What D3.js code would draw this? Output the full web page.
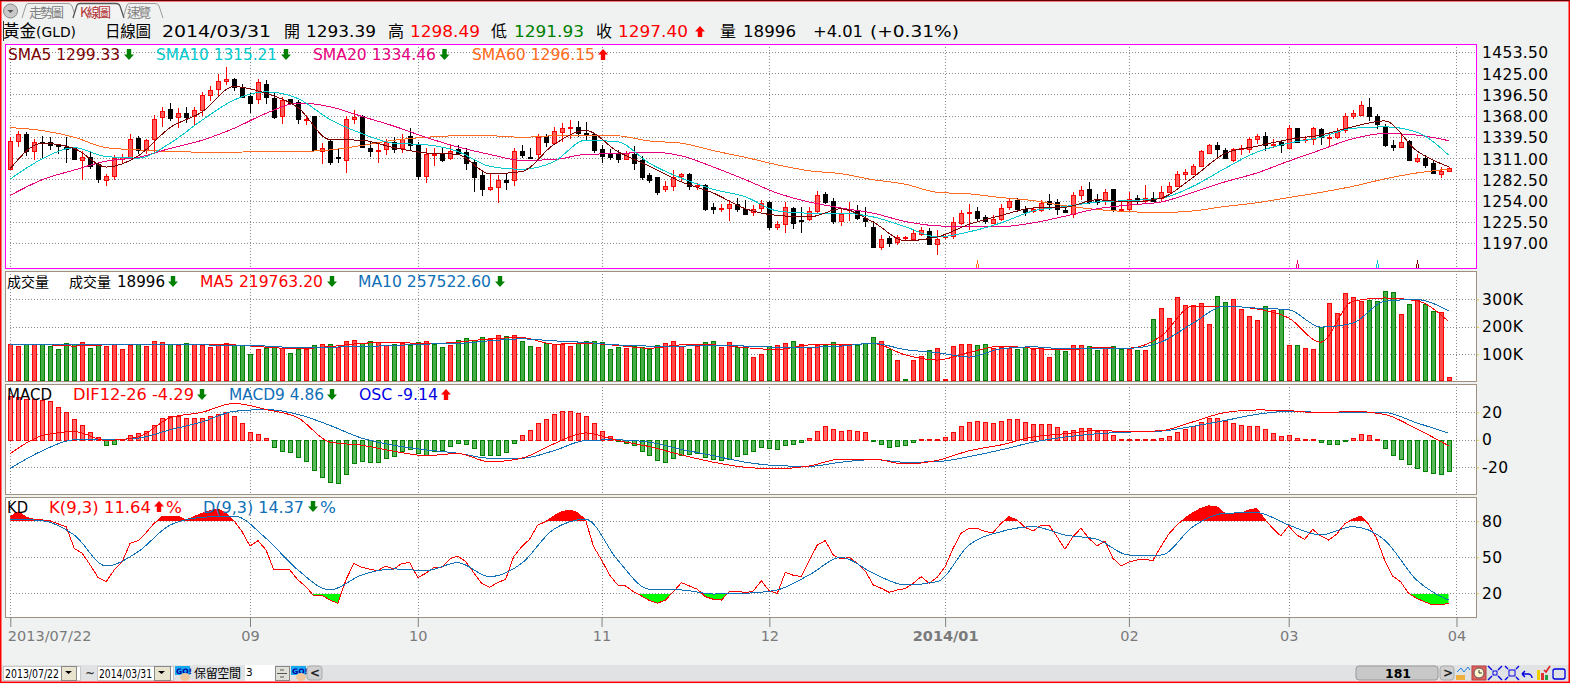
<!DOCTYPE html>
<html><head><meta charset="utf-8">
<style>
html,body{margin:0;padding:0;background:#f0f2f2;overflow:hidden}
svg{display:block}
text{font-family:"DejaVu Sans","Noto Sans CJK TC",sans-serif}
.cjk{font-family:"Noto Sans CJK TC",sans-serif}
</style>
<script src="https://cdn.jsdelivr.net/npm/d3@7"></script>
</head><body><svg id="c" width="1570" height="684"></svg>
<script>
const opens=[1296,1334,1344,1321,1333,1333,1328,1326,1324,1309,
1313,1303,1282,1287,1310,1312,1338,1322,1336,1366,
1377,1366,1371,1367,1375,1396,1404,1415,1417,1407,
1395,1391,1411,1392,1367,1390,1387,1363,1367,1321,
1334,1312,1309,1363,1367,1325,1321,1323,1332,1325,
1341,1329,1287,1315,1316,1311,1323,1319,1306,1288,
1270,1272,1282,1282,1321,1312,1316,1341,1331,1346,
1351,1353,1345,1344,1323,1316,1316,1310,1317,1308,
1288,1285,1269,1273,1287,1289,1274,1275,1245,1243,
1244,1249,1242,1238,1244,1252,1218,1223,1244,1228,
1229,1240,1263,1253,1226,1241,1240,1231,1219,1191,
1204,1199,1204,1203,1209,1213,1196,1205,1207,1224,
1237,1240,1232,1224,1229,1246,1255,1243,1240,1241,
1254,1252,1241,1236,1262,1269,1256,1254,1269,1242,
1243,1258,1253,1258,1257,1266,1274,1290,1290,1300,
1318,1328,1322,1309,1323,1323,1337,1341,1328,1332,
1325,1351,1335,1337,1350,1338,1339,1349,1367,1369,
1380,1367,1354,1329,1326,1334,1307,1311,1305,1290,1293.39];
const highs=[1340,1348,1346,1337,1341,1339,1330,1339,1325,1320,
1321,1304,1290,1315,1316,1344,1341,1336,1369,1379,
1385,1378,1379,1380,1400,1408,1424,1434,1418,1411,
1398,1417,1416,1398,1393,1391,1389,1369,1368,1331,
1335,1324,1367,1375,1369,1333,1330,1337,1340,1344,
1352,1332,1324,1324,1325,1329,1329,1324,1308,1295,
1291,1288,1290,1324,1329,1324,1344,1343,1353,1358,
1362,1361,1359,1345,1329,1323,1322,1321,1327,1314,
1291,1285,1280,1295,1291,1291,1278,1276,1251,1249,
1255,1258,1255,1248,1255,1253,1226,1252,1246,1245,
1245,1267,1265,1257,1242,1252,1248,1245,1226,1208,
1207,1208,1207,1215,1219,1217,1215,1209,1232,1241,
1249,1245,1234,1235,1250,1257,1257,1247,1246,1255,
1263,1256,1247,1266,1274,1279,1263,1270,1270,1255,
1266,1261,1275,1266,1273,1279,1294,1296,1303,1322,
1330,1332,1324,1325,1328,1339,1343,1346,1336,1334,
1355,1352,1341,1353,1352,1345,1352,1371,1375,1388,
1392,1370,1357,1335,1343,1335,1317,1315,1307,1299,1298.49];
const lows=[1295,1326,1314,1308,1311,1322,1317,1305,1308,1282,
1297,1278,1273,1282,1305,1311,1317,1316,1318,1353,
1361,1351,1358,1355,1367,1388,1394,1409,1401,1392,
1371,1384,1384,1363,1357,1382,1357,1355,1321,1303,
1302,1305,1291,1357,1324,1313,1305,1315,1318,1318,
1322,1282,1277,1300,1306,1308,1316,1295,1265,1260,
1267,1251,1268,1274,1311,1311,1309,1326,1329,1333,
1337,1340,1335,1318,1305,1309,1305,1309,1295,1281,
1278,1261,1265,1267,1279,1268,1268,1240,1236,1239,
1226,1239,1235,1233,1239,1215,1215,1211,1216,1211,
1226,1237,1250,1223,1220,1226,1228,1219,1190,1187,
1192,1194,1200,1200,1207,1194,1181,1203,1203,1221,
1215,1226,1223,1223,1226,1241,1239,1233,1237,1238,
1241,1235,1237,1231,1255,1250,1248,1248,1238,1238,
1238,1249,1250,1252,1252,1264,1273,1282,1288,1299,
1316,1313,1310,1306,1315,1318,1330,1321,1324,1318,
1324,1331,1331,1329,1328,1327,1337,1345,1364,1367,
1361,1350,1326,1320,1324,1307,1305,1298,1289,1284,1291.93];
const closes=[1334,1343,1321,1333,1332,1328,1327,1323,1310,1312,
1301,1283,1287,1311,1313,1336,1322,1335,1364,1374,
1365,1371,1366,1375,1396,1403,1415,1417,1406,1393,
1385,1413,1393,1366,1389,1385,1363,1364,1322,1324,
1306,1311,1364,1366,1326,1320,1322,1333,1323,1336,
1328,1287,1316,1316,1309,1321,1318,1304,1285,1270,
1272,1281,1279,1320,1315,1311,1340,1332,1347,1351,
1353,1345,1343,1322,1314,1313,1310,1318,1305,1286,
1282,1266,1274,1286,1289,1273,1275,1243,1242,1244,
1250,1242,1236,1243,1251,1219,1222,1246,1224,1227,
1240,1262,1252,1226,1236,1242,1231,1227,1191,1202,
1197,1205,1205,1210,1214,1196,1202,1206,1225,1237,
1239,1231,1226,1229,1244,1253,1242,1239,1243,1251,
1250,1242,1238,1262,1268,1252,1252,1266,1243,1243,
1256,1254,1258,1254,1266,1274,1290,1292,1301,1320,
1328,1323,1311,1323,1324,1336,1341,1328,1330,1328,
1351,1332,1337,1351,1339,1340,1346,1367,1371,1382,
1367,1357,1328,1326,1333,1308,1311,1302,1291,1294,1297.40];

// moving averages, read every fourth session
const sma5=[1297,1331,1324,1299,1314,1352,1373,1407,1398,1379,1336,1335,1325,1318,1316,1290,1293,1329,1348,1320,1300,1279,1264,1243,1234,1232,1243,1225,1200,1205,1222,1234,1244,1245,1255,1252,1257,1285,1317,1327,1336,1342,1353,1361,1321,1299.33];
const sma10=[1283,1310,1325,1313,1311,1331,1362,1389,1400,1391,1363,1344,1331,1329,1320,1300,1296,1306,1335,1333,1304,1284,1269,1259,1240,1237,1237,1232,1219,1205,1212,1224,1240,1246,1252,1254,1257,1273,1297,1319,1331,1339,1351,1353,1346,1315.21];
const sma20=[1261,1282,1295,1307,1312,1324,1335,1351,1371,1385,1380,1367,1354,1339,1326,1316,1308,1309,1316,1317,1319,1314,1299,1282,1264,1252,1244,1237,1226,1220,1219,1219,1224,1233,1243,1248,1252,1265,1279,1291,1307,1322,1337,1344,1342,1334.46];
const sma60=[1352,1348,1339,1325,1322,1320,1319,1319,1320,1320,1322,1328,1335,1339,1341,1341,1339,1341,1342,1341,1334,1331,1321,1312,1302,1294,1290,1282,1276,1265,1263,1258,1254,1247,1242,1239,1238,1240,1246,1251,1258,1265,1273,1283,1291,1296.15];
const crossIdx=[121,161,171,176];

const volumes=[137,131,137,137,137,129,120,140,137,144,
122,137,129,137,120,133,137,129,148,144,
137,133,140,137,133,126,137,140,133,133,
100,120,124,129,122,104,118,118,133,137,
137,126,148,151,140,148,144,133,137,140,
133,144,148,137,126,133,151,159,151,162,
155,170,166,170,148,129,126,142,137,137,
131,140,148,148,144,118,126,122,129,126,
120,133,140,148,129,118,129,144,148,126,
144,126,126,89,100,129,133,140,148,137,
122,133,133,144,133,133,133,140,162,148,
118,78,9,78,93,115,122,9,129,137,
137,133,137,122,126,122,118,126,118,122,
89,118,111,133,133,129,115,122,129,118,
118,115,115,228,268,232,309,279,279,287,
210,312,290,301,265,239,224,276,261,265,
133,133,122,118,199,287,250,323,309,294,
298,294,331,327,246,283,298,283,257,254,19];
const volUp="RRGRGGGGGR"+"GGRRRRGRRR"+"GRGRRRRRGG"+"GRGGRGGRGR"+"GRRRGGRRGR"+"GGRGGRGGGG"+"RRGRGGRGRR"+"RGGGGGGRGG"+"GGRRRGRGGR"+"RGGRRGRRGR"+"RRGGRRGGGR"+"GRGRRGRRRR"+"RGGRRRGGRR"+"RGGRRGGRGG"+"RGRGRRRRRR"+"RGGRRRRGRG"+"RGRRGRRRRR"+"GGGGRGRGGRR";
const volMA5=[134,135,130,134,134,134,135,134,126,120,128,140,144,138,144,156,161,137,140,132,122,134,134,124,117,134,134,139,98,79,107,130,122,116,124,122,165,275,275,265,232,144,293,305,295,219.76];
const volMA10=[134,134,134,134,134,134,134,133,130,124,126,128,132,137,139,149,156,149,143,134,130,130,132,130,126,126,130,140,117,106,90,120,127,120,122,122,144,213,275,268,262,199,213,293,299,257.52];

const osc=[32,31,30,29.5,29,28,24,20,15,10.5,
6,1.7,-3.7,-3,0.5,3.7,5,6.6,11,16,
17.5,17.5,16,15.6,16,17.5,19,20,17,12.4,
5.9,4.4,1,-5.4,-8,-9,-12.4,-15.4,-22,-27,
-31,-31.5,-25,-17,-15.6,-16,-16,-13,-11.7,-8.5,
-7,-9.5,-11,-8.3,-7.6,-4.4,-2.2,-3,-6,-11,
-11,-11,-9,-2.2,3.7,7.3,12.4,15.4,18.5,20.7,
21.2,19.8,17.6,12.4,6.6,2.9,-0.7,-2.4,-3.7,-8,
-11.2,-15,-16.3,-13.4,-11.2,-10.2,-9.5,-12.4,-14,-15,
-14,-11.7,-10.2,-8,-5,-6,-7,-3.7,-3,-1.5,
1.5,6.6,10.2,8,6.6,7.3,6.6,5.9,-0.7,-3,
-5,-4.4,-3.7,-1.5,0.7,0.7,0.7,2.2,5.9,10.2,
13.2,13.9,13.2,12.4,13.9,15.4,15.4,13.2,11.7,11.7,
11.7,9.5,6.6,7.3,8.8,8.8,6.6,7.3,3.7,0.7,
0.7,0.7,0.7,0.7,1.5,2.9,5.9,8,10.2,13.2,
16,16,13.9,12.4,11,10.2,10.2,8,5,2.9,
3.7,1.5,0.7,0.7,-1.5,-3,-3,-0.7,1.5,4.4,
3.7,0.7,-6,-11,-14,-17.6,-20.5,-22.7,-24,-25,-23];
const dif=[-10,3,6,-0.5,2,16,20,26.5,22,16,-1.7,-4,-8.3,-11.5,-10,-16,-13.4,-3,5,-0.5,-5,-11,-16.3,-20,-21,-19,-14,-14,-17.6,-15,-8,-3.7,2,4.4,6.8,5.9,6.6,13,19.8,21.7,21.2,19.5,20.7,18.5,8,-4.29];
const macd9=[-20.7,-8,0,0,1.2,7.3,13,20.7,22,18.5,10.5,1.2,-4,-7.3,-9.8,-13.4,-13.4,-8,-0.5,0,-1.7,-7,-11.5,-16.3,-18.8,-19.3,-16.3,-14.4,-16.3,-15.9,-12.2,-7.3,-1.7,2,4.4,5.6,6.3,9.8,14,18.5,20.7,20,19.8,19.8,12.4,4.86];

const kLine=[83.9,88,83.3,81.7,81.1,80.3,77.8,75.5,57.5,53.3,
43.6,33,29.7,39.4,46.4,61.7,63.9,70.5,78.3,83.9,
83.9,84.4,81.1,83.9,86.7,88.9,90,86.7,80.5,71.4,
59.4,63.9,56.1,39.4,40,39.4,31.1,25.5,17.8,18.3,
14.4,11.7,31.1,45,41.7,40,38.9,42.8,40,45,
45.5,33,36.7,41.4,41.7,48.6,51.1,46.4,37.2,28.3,
25,28.9,31.7,50.5,58.9,65,76.9,79.7,84.4,88,
89.4,87.2,81.1,58.9,47.8,35.3,27,26.1,21.4,17.8,
13.9,11.7,14.4,21.4,28.9,26.1,23.3,17.2,15,14.4,
21.4,21.9,20.5,21.9,30.5,21.9,20,37.5,35,33.9,
47.2,60.3,63.9,51.9,48.6,50,45,38.6,27,24.2,
20.8,22.8,23.9,28.3,33.9,28.3,33.3,42.2,57.5,70,
74.2,74.2,71.4,70.5,78.3,83.9,81.1,75,71.9,76.9,
76.9,67.2,56.7,67.2,74.2,65.8,59.4,63.6,49.2,42.8,
46.1,47.8,48.3,47.2,58.9,69.4,76.9,82.5,87.2,90.8,
92.8,92.2,86.7,86.1,86.7,89.4,90.8,81.7,74.2,67.8,
76.1,68.6,65,73.3,67.8,64.4,69.2,77.8,81.7,84.4,
77.5,65.8,47.8,34.4,29.7,20,15.8,13,10.3,10.3,11.64];
const dLine=[81.9,80.5,68.6,42.8,54.7,76.9,83.3,84.4,65.8,39.4,22.8,35.3,40.3,38.9,45.5,33.9,45,73.3,81.7,47.8,23.3,22.8,19.4,20,22.8,35.3,50,36.7,27,29.7,60.3,71.4,75.5,68.6,65,51.9,51.9,75.5,86.7,87.2,76.9,68.6,75.5,64.4,31.1,14.37];

const priceTicks=[1453.5,1425,1396.5,1368,1339.5,1311,1282.5,1254,1225.5,1197];
const volTicks=[300,200,100], macdTicks=[20,0,-20], kdTicks=[80,50,20];
const dateIdx=[0,30,51,74,95,117,140,160,181];
const dateLabels=["2013/07/22","09","10","11","12","2014/01","02","03","04"];
const maIdx=d3.range(0,181,4);

const RED="#ff0000",GREEN="#008000",BLUE="#0f70b8",DK="#7b0000",CY="#00c8cc",PK="#e6007e",OR="#ff6a20";
const svg=d3.select("#c");
const x=d3.scaleLinear().domain([0,180]).range([10.3,1448.5]);
const yP=d3.scaleLinear().domain([1197,1453.5]).range([243,52]);
const yV=d3.scaleLinear().domain([0,300]).range([381.8,299.3]);
const yM=d3.scaleLinear().domain([-20,20]).range([467.3,412.3]);
const yK=d3.scaleLinear().domain([20,80]).range([593.3,521.3]);
const px=i=>Math.round(x(i));

// page frame
svg.append("rect").attr("width",1570).attr("height",684).attr("fill","#f0f2f2");
const panes=[[44,268,"#ff00ff",yP,priceTicks],[271,381,"#a09080",yV,volTicks],[384,494,"#a09080",yM,macdTicks],[497,617,"#a09080",yK,kdTicks]];
panes.forEach(p=>{
  svg.append("rect").attr("x",5).attr("y",p[0]).attr("width",1471).attr("height",p[1]-p[0]).attr("fill","#fff");
  const g=svg.append("g").attr("stroke","#8a8a8a").attr("stroke-dasharray","1 2").attr("shape-rendering","crispEdges");
  p[4].forEach(t=>g.append("line").attr("x1",10).attr("x2",1476).attr("y1",Math.round(p[3](t))+.5).attr("y2",Math.round(p[3](t))+.5));
  dateIdx.forEach(i=>g.append("line").attr("x1",px(i)+.5).attr("x2",px(i)+.5).attr("y1",p[0]).attr("y2",p[1]));
});

const lineOf=(xs,y,c)=>svg.append("path").datum(xs).attr("fill","none").attr("stroke",c).attr("stroke-width",1).attr("shape-rendering","crispEdges")
  .attr("d",d3.line().curve(d3.curveMonotoneX).x((d,i)=>x(maIdx[i])).y(d=>y(d)));

// candles
const candle=svg.append("g").attr("shape-rendering","crispEdges");
closes.forEach((c,i)=>{
  const up=c>=opens[i], col=up?RED:"#000";
  candle.append("line").attr("x1",px(i)+.5).attr("x2",px(i)+.5).attr("y1",yP(highs[i])).attr("y2",yP(lows[i])).attr("stroke",col);
  const t=Math.round(yP(Math.max(c,opens[i]))),b=Math.round(yP(Math.min(c,opens[i])));
  candle.append("rect").attr("x",px(i)-1.5).attr("y",t+.5).attr("width",4).attr("height",Math.max(1,b-t))
    .attr("fill",up?"#ff5c5c":"#000").attr("stroke",col);
});
lineOf(sma60,yP,OR);lineOf(sma20,yP,PK);lineOf(sma10,yP,CY);lineOf(sma5,yP,DK);
[OR,PK,CY,DK].forEach((c,k)=>{
  const m=svg.append("g").attr("stroke",c).attr("shape-rendering","crispEdges"),X=px(crossIdx[k]);
  m.append("line").attr("x1",X+.5).attr("x2",X+.5).attr("y1",260).attr("y2",264);
  m.append("line").attr("x1",X-.5).attr("x2",X-.5).attr("y1",264).attr("y2",268);
  m.append("line").attr("x1",X+1.5).attr("x2",X+1.5).attr("y1",264).attr("y2",268);
});

// volume
const vg=svg.append("g").attr("shape-rendering","crispEdges");
volumes.forEach((v,i)=>{
  const up=volUp[i]==="R",t=Math.round(yV(v));
  vg.append("rect").attr("x",px(i)-1.5).attr("y",t+.5).attr("width",4).attr("height",Math.max(0,380-t))
    .attr("fill",up?"#ff4d4d":"#45ad45").attr("stroke",up?RED:GREEN);
});
lineOf(volMA5,yV,RED);lineOf(volMA10,yV,BLUE);

// MACD
const mg=svg.append("g").attr("shape-rendering","crispEdges");
osc.forEach((v,i)=>{
  const up=v>=0,a=Math.round(yM(v)),z=Math.round(yM(0));
  mg.append("rect").attr("x",px(i)-1.5).attr("y",Math.min(a,z)+.5).attr("width",4).attr("height",Math.max(1,Math.abs(a-z)))
    .attr("fill",up?"#ff6a6a":"#5cb85c").attr("stroke",up?RED:GREEN);
});
lineOf(macd9,yM,BLUE);lineOf(dif,yM,RED);

// KD
const defs=svg.append("defs");
defs.append("clipPath").attr("id","ob").append("rect").attr("x",0).attr("y",497).attr("width",1570).attr("height",24);
defs.append("clipPath").attr("id","os").append("rect").attr("x",0).attr("y",594).attr("width",1570).attr("height",23);
const area=b=>d3.area().x((d,i)=>x(i)).y0(yK(b)).y1(d=>yK(d));
svg.append("path").datum(kLine).attr("clip-path","url(#ob)").attr("fill",RED).attr("d",area(80));
svg.append("path").datum(kLine).attr("clip-path","url(#os)").attr("fill","#00ff00").attr("d",area(20));
svg.append("path").datum(kLine).attr("fill","none").attr("stroke",RED).attr("stroke-width",1).attr("shape-rendering","crispEdges")
  .attr("d",d3.line().x((d,i)=>x(i)).y(d=>yK(d)));
lineOf(dLine,yK,BLUE);

// pane borders
panes.forEach(p=>{
  svg.append("rect").attr("x",5.5).attr("y",p[0]+.5).attr("width",1471).attr("height",p[1]-p[0]).attr("fill","none")
   .attr("stroke",p[2]).attr("stroke-width",1).attr("shape-rendering","crispEdges");
});

// axes
const axisStyle=(g,size)=>{g.select(".domain").remove();g.selectAll("text").attr("font-size",size).attr("fill","#000")
  .attr("font-family",'"DejaVu Sans"').attr("letter-spacing",.35);};
svg.append("g").attr("transform","translate(1479,1)")
  .call(d3.axisRight(yP).tickValues(priceTicks).tickFormat(d3.format(".2f")).tickSize(0).tickPadding(3)).call(axisStyle,15.5);
[[yV,volTicks,d=>d+"K"],[yM,macdTicks,d=>String(d)],[yK,kdTicks,d=>String(d)]].forEach(a=>{
  const g=svg.append("g").attr("transform","translate(1477,0)")
   .call(d3.axisRight(a[0]).tickValues(a[1]).tickFormat(a[2]).tickSize(2).tickPadding(3)).call(axisStyle,15.5);
  g.selectAll("line").attr("stroke","#e0d040");
});
const dg=svg.append("g").attr("transform","translate(0,617)")
  .call(d3.axisBottom(x).tickValues(dateIdx).tickFormat((d,i)=>dateLabels[i]).tickSize(10).tickPadding(4));
dg.select(".domain").remove();
dg.selectAll("line").attr("stroke","#808080");
dg.selectAll("text").attr("font-size",14.5).attr("fill","#7a7a7a").attr("font-family",'"DejaVu Sans"');
dg.selectAll("text").filter((d,i)=>i===0).attr("text-anchor","start").attr("x",-3);
dg.selectAll("text").filter((d,i)=>i===5).attr("font-weight","bold");

// text helpers
function T(s,x0,x1,base,col,size,cjk){
  const t=svg.append("text").attr("x",x0).attr("y",base).attr("fill",col||"#000").attr("font-size",size||15).text(s);
  if(x1) t.attr("textLength",x1-x0).attr("lengthAdjust",cjk?"spacing":"spacingAndGlyphs");
  if(cjk) t.attr("class","cjk");
  return t;
}
function A(x0,top,up,col){ // block arrow 10x11
  const w=10,h=11,p=up?[[w/2,0],[w,5.5],[7.2,5.5],[7.2,h],[2.8,h],[2.8,5.5],[0,5.5]]:[[w/2,h],[w,5.5],[7.2,5.5],[7.2,0],[2.8,0],[2.8,5.5],[0,5.5]];
  svg.append("path").attr("transform",`translate(${x0},${top})`).attr("d",d3.line()(p)+"Z").attr("fill",col);
}
const GR="#008000";
// price legend
T("SMA5 1299.33",8,120,60,DK);A(124,49,false,GR);
T("SMA10 1315.21",156,277,60,CY);A(281,49,false,GR);
T("SMA20 1334.46",313,436,60,PK);A(439.5,49,false,GR);
T("SMA60 1296.15",472,595,60,OR);A(598,49,true,RED);
// volume legend
T("成交量",7,49,287,"#000",14,1);T("成交量",69,111,287,"#000",14,1);
T("18996",117,165,287);A(168,276,false,GR);
T("MA5 219763.20",200,323,287,RED);A(327,276,false,GR);
T("MA10 257522.60",358,491,287,BLUE);A(495,276,false,GR);
// MACD legend
T("MACD",7,52,400);
T("DIF12-26 -4.29",73,194,400,RED);A(197,389,false,GR);
T("MACD9 4.86",229,324,400,BLUE);A(327,389,false,GR);
T("OSC -9.14",359,438,400,"#0000e6");A(441,389,true,RED);
// KD legend
T("KD",7,28,513);
T("K(9,3) 11.64",49,151,513,RED);A(154,501,true,RED);T("%",166,182,513,RED);
T("D(9,3) 14.37",203,304,513,BLUE);A(308,501,false,GR);T("%",320,336,513,BLUE);

// header line
const hs=16.5;
T("黃金",3,36,37,"#000",16.5,1);T("(GLD)",36,76,37,"#000",13.5);
T("日線圖",105,151,37,"#000",15.5,1);
T("2014/03/31",162,271,37,"#000",hs);
T("開",284,302,37,"#000",16,1);T("1293.39",306,376,37,"#000",hs);
T("高",388,404,37,"#000",16,1);T("1298.49",410,480,37,RED,hs);
T("低",491,507,37,"#000",16,1);T("1291.93",514,584,37,GR,hs);
T("收",596,612,37,"#000",16,1);T("1297.40",618,688,37,RED,hs);A(695,26,true,RED);
T("量",720,736,37,"#000",16,1);T("18996",743,796,37,"#000",hs);
T("+4.01",813,863,37,"#000",hs);T("(+0.31%)",870,959,37,"#000",hs);
svg.append("line").attr("x1",3.5).attr("x2",3.5).attr("y1",21).attr("y2",41).attr("stroke","#333");

// tabs
const tab=(x0,x1,strong)=>svg.append("path").attr("d",`M${x0},18 L${x0+4},5 Q${x0+5},3.5 ${x0+7},3.5 L${x1-8},3.5 Q${x1-5},3.5 ${x1-4},6 L${x1},18`)
  .attr("fill",strong?"#f4f4f4":"#f0f2f2").attr("stroke",strong?"#555":"#9a9a9a").attr("stroke-width",strong?1.3:1);
tab(123,163,false);tab(22,76,false);tab(73,124,true);
svg.append("circle").attr("cx",10.5).attr("cy",11).attr("r",7).attr("fill","#c8c8c8").attr("stroke","#8a8a8a");
svg.append("path").attr("d","M7.5,10 L13.5,10 L10.5,13 Z").attr("fill","#555");
T("走勢圖",29,64,17,"#808080",13,1);
T("K線圖",80,111,17,"#b03030",13,1);
T("速覽",127,151,17,"#808080",13,1);

// bottom bar
svg.append("rect").attr("x",0).attr("y",665).attr("width",1570).attr("height",16).attr("fill","#e0e2e4");
const box=(a,b,f,st)=>svg.append("rect").attr("x",a+.5).attr("y",666.5).attr("width",b-a).attr("height",14).attr("fill",f).attr("stroke",st||"#c8c8c8");
box(3,80,"#fff");T("2013/07/22",5,59,678,"#000",11.5,0);
box(61,76,"#e8e4d0","#888");svg.append("path").attr("d","M65,671 h7 l-3.5,3 Z").attr("fill","#000");
T("~",85,95,678,"#333",14);
box(97,173,"#fff");T("2014/03/31",99,152,678,"#000",11.5,0);
box(154,170,"#e8e4d0","#888");svg.append("path").attr("d","M158,671 h7 l-3.5,3 Z").attr("fill","#000");
const go=x0=>{svg.append("rect").attr("x",x0).attr("y",666).attr("width",15).attr("height",9).attr("fill","#18a8f0");
  svg.append("text").attr("x",x0+1).attr("y",674).attr("font-size",7.5).attr("font-weight","bold").attr("fill","#0000a0").text("GO!");
  svg.append("ellipse").attr("cx",x0+10).attr("cy",677).attr("rx",5).attr("ry",4).attr("fill","#f0c8a0");};
go(175);go(291);
T("保留空間",194,241,678,"#000",12,1);
svg.append("rect").attr("x",245).attr("y",665).attr("width",30).attr("height",16).attr("fill","#fff");
T("3",246,0,676,"#000",10.5);
box(275,289,"#e0e0d8","#888");
svg.append("path").attr("d","M277,673.5 h10 M280,670 h4 M280,677 h4").attr("stroke","#555");
svg.append("rect").attr("x",307).attr("y",666).attr("width",15).attr("height",14).attr("rx",3).attr("fill","#d0d0d0").attr("stroke","#aaa");
T("<",310,0,677,"#222",12).attr("font-weight","bold");
svg.append("rect").attr("x",1356).attr("y",666).attr("width",82).attr("height",14).attr("rx",3).attr("fill","#c8c8c8").attr("stroke","#999");
T("181",1385,1411,678,"#000",12.5).attr("font-weight","bold");
svg.append("rect").attr("x",1440).attr("y",666).attr("width",14).attr("height",14).attr("rx",3).attr("fill","#d0d0d0").attr("stroke","#aaa");
T(">",1443,0,677,"#222",12).attr("font-weight","bold");
// toolbar icons
svg.append("rect").attr("x",1456).attr("y",675).attr("width",9).attr("height",5).attr("fill","#f0b040");
svg.append("path").attr("d","M1457,672 l4,-4 l3,4 l4,-5 l2,3").attr("fill","none").attr("stroke","#2080e0");
svg.append("rect").attr("x",1472).attr("y",666).attr("width",14).attr("height",14).attr("fill","#e06060").attr("stroke","#b04040");
svg.append("circle").attr("cx",1479).attr("cy",673).attr("r",5).attr("fill","#fff8d0").attr("stroke","#555");
svg.append("path").attr("d","M1479,670 v3 h3").attr("fill","none").attr("stroke","#333");
const bl="#0000e0";
svg.append("rect").attr("x",1493).attr("y",671).attr("width",4).attr("height",4).attr("fill","none").attr("stroke",bl);
svg.append("path").attr("d","M1488,666 l4,4 M1502,666 l-4,4 M1488,680 l4,-4 M1502,680 l-4,-4").attr("stroke",bl).attr("stroke-width",1.4);
svg.append("rect").attr("x",1509).attr("y",670).attr("width",6).attr("height",6).attr("fill","none").attr("stroke",bl);
svg.append("path").attr("d","M1505,666 l3,3 M1519,666 l-3,3 M1505,680 l3,-3 M1519,680 l-3,-3").attr("stroke",bl).attr("stroke-width",1.4);
svg.append("path").attr("d","M1522,674 h6 a4,4 0 0 1 4,4 M1522,674 l3,-3 M1522,674 l3,3").attr("fill","none").attr("stroke",bl).attr("stroke-width",1.5);
svg.append("rect").attr("x",1537).attr("y",670).attr("width",3).attr("height",10).attr("fill","#f0d000");
svg.append("rect").attr("x",1541).attr("y",673).attr("width",3).attr("height",7).attr("fill","#e03030");
svg.append("rect").attr("x",1545).attr("y",675).attr("width",3).attr("height",5).attr("fill","#20a040");
svg.append("path").attr("d","M1544,670 l2,2 l4,-6").attr("fill","none").attr("stroke","#e02020").attr("stroke-width",1.6);
svg.append("rect").attr("x",1553).attr("y",669).attr("width",12).attr("height",10).attr("rx",2).attr("fill","none").attr("stroke",bl).attr("stroke-width",1.3);

// outer frame
svg.append("rect").attr("x",.75).attr("y",.75).attr("width",1568.5).attr("height",681.5).attr("fill","none").attr("stroke",RED).attr("stroke-width",1.5);
svg.append("line").attr("x1",0).attr("x2",1570).attr("y1",.5).attr("y2",.5).attr("stroke","#600000");
</script></body></html>
